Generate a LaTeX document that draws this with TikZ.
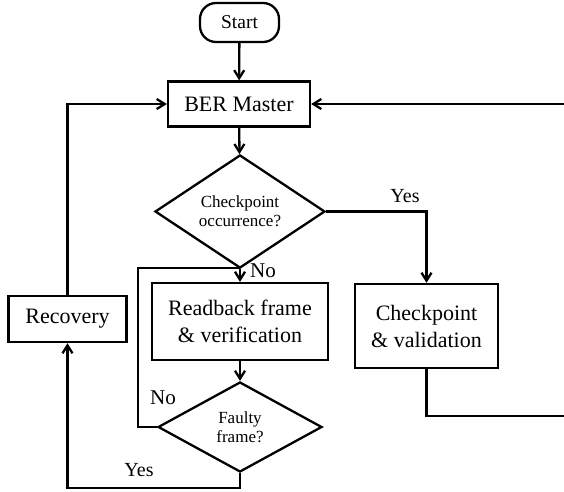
\documentclass[tikz,border=0pt]{standalone}
\usepackage{fontspec}
\setmainfont{Liberation Serif}
\usetikzlibrary{shapes.geometric,arrows.meta}
\begin{document}
\begin{tikzpicture}[x=1pt,y=-1pt,
  line width=2.3pt,
  box/.style={draw,rectangle,inner sep=0pt,align=center,font=\fontsize{22}{27}\selectfont},
  dec/.style={draw,diamond,inner sep=0pt,align=center,font=\fontsize{17}{19}\selectfont},
  term/.style={draw,rectangle,rounded corners=16pt,inner sep=0pt,font=\fontsize{19.5}{22}\selectfont},
  arr/.style={-{Straight Barb[length=8pt,width=10pt]}},
  lab/.style={inner sep=0pt,font=\fontsize{21}{24}\selectfont}]
\useasboundingbox (0,0) rectangle (564,491);
\clip (0,0) rectangle (564,491);
\node[term,minimum width=79pt,minimum height=39pt] (start) at (239.5,22.5) {Start};
\node[box,minimum width=142pt,minimum height=45pt] (ber) at (239,104) {BER Master};
\node[dec,minimum width=170pt,minimum height=89pt] (d1) at (240,211.5) {Checkpoint\\occurrence?};
\node[box,minimum width=176pt,minimum height=77pt] (rb) at (240,321.5) {Readback frame\\\& verification};
\node[dec,minimum width=164pt,minimum height=90pt] (d2) at (240,427) {Faulty\\frame?};
\node[box,minimum width=143pt,minimum height=84pt] (cp) at (426.5,326) {Checkpoint\\\& validation};
\node[box,minimum width=118pt,minimum height=46pt] (rec) at (67.5,319) {Recovery};
\coordinate (nl) at (138,268);
\coordinate (rc) at (568,416);
\draw[arr] (start) -- (ber);
\draw[arr] (ber) -- (d1);
\draw[arr] (d1.east) -| (cp.north);
\draw[arr] (d1.south) -- (rb.north);
\draw[arr] (rb) -- (d2);
\draw (d2.west) -| (nl) -- (nl -| rb.north);
\draw[arr] (d2.south) -- ++(0,15) -| (rec.south);
\draw[arr] (rec.north) |- (ber.west);
\draw[arr] (cp.south) |- (rc) |- (ber.east);
\node[lab,font=\fontsize{20}{24}\selectfont] (y1) at (405,196) {Yes};
\node[lab] (n1) at (263,271) {No};
\node[lab] (n2) at (163,398) {No};
\node[lab,font=\fontsize{20}{24}\selectfont] (y2) at (139,470) {Yes};
\end{tikzpicture}
\end{document}
